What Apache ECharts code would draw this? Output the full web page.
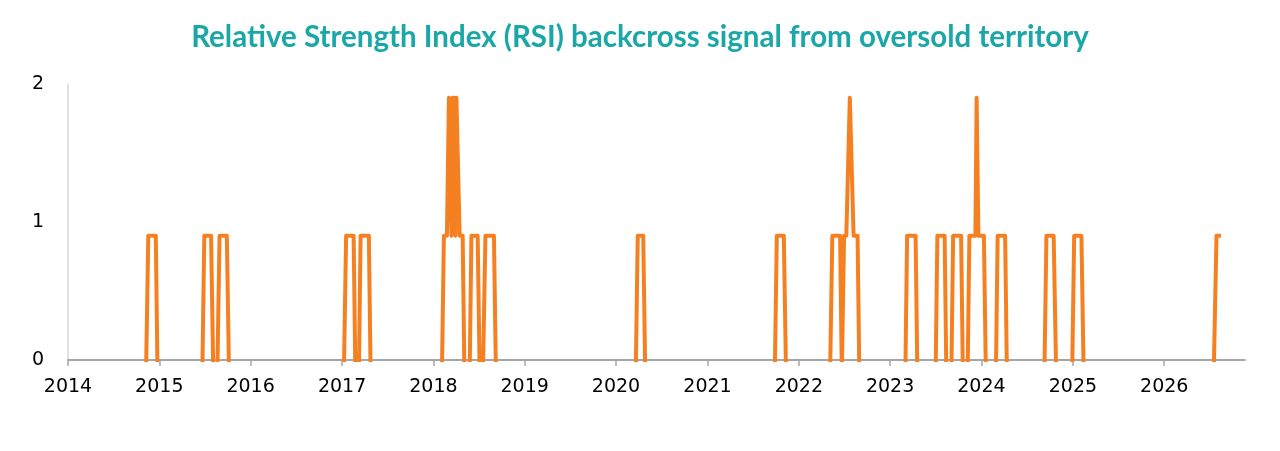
<!DOCTYPE html>
<html>
<head>
<meta charset="utf-8">
<title>RSI backcross signal</title>
<script src="https://cdn.jsdelivr.net/npm/echarts@6/dist/echarts.min.js"></script>
<style>
  html, body { margin: 0; padding: 0; background: #fff; }
  #chart { width: 1280px; height: 451px; }
</style>
</head>
<body>
<div id="chart"></div>
<script>
// signal series: -0.1 = no signal (sits just under the axis, clipped), 0.9 / 1.9 = signal
var signalDates = [
  '2014-11-09','2014-11-18','2014-12-18','2014-12-25',
  '2015-06-22','2015-06-30','2015-07-27','2015-08-05',
  '2015-08-21','2015-08-30','2015-09-28','2015-10-07',
  '2017-01-08','2017-01-17','2017-02-16','2017-02-23',
  '2017-03-09','2017-03-16','2017-04-18','2017-04-25',
  '2018-02-04','2018-02-12','2018-02-24','2018-03-04','2018-03-10','2018-03-14',
  '2018-03-18','2018-03-26','2018-03-30','2018-04-03','2018-04-09','2018-04-16',
  '2018-04-28','2018-05-05',
  '2018-05-26','2018-06-02','2018-06-27','2018-07-05',
  '2018-07-18','2018-07-28','2018-08-31','2018-09-08',
  '2020-03-20','2020-03-28','2020-04-19','2020-04-27',
  '2021-09-27','2021-10-05','2021-11-02','2021-11-11',
  '2022-05-06','2022-05-15','2022-06-15','2022-06-22',
  '2022-07-01','2022-07-10','2022-07-24','2022-07-28','2022-08-08','2022-08-24','2022-08-31',
  '2023-03-03','2023-03-10','2023-04-13','2023-04-20',
  '2023-07-02','2023-07-09','2023-08-07','2023-08-14',
  '2023-09-03','2023-09-10','2023-10-12','2023-10-19',
  '2023-11-07','2023-11-14','2023-12-08','2023-12-13','2023-12-15','2023-12-20',
  '2024-01-11','2024-01-19',
  '2024-02-28','2024-03-06','2024-04-05','2024-04-12',
  '2024-09-09','2024-09-17','2024-10-16','2024-10-26',
  '2024-12-29','2025-01-06','2025-02-04','2025-02-13',
  '2026-07-18','2026-07-29','2026-08-16'
];
var signalValues = [
  -0.1, 0.9, 0.9, -0.1,
  -0.1, 0.9, 0.9, -0.1,
  -0.1, 0.9, 0.9, -0.1,
  -0.1, 0.9, 0.9, -0.1,
  -0.1, 0.9, 0.9, -0.1,
  -0.1, 0.9, 0.9, 1.9, 1.9, 0.9,
  1.9, 1.9, 0.9, 1.9, 1.9, 0.9,
  0.9, -0.1,
  -0.1, 0.9, 0.9, -0.1,
  -0.1, 0.9, 0.9, -0.1,
  -0.1, 0.9, 0.9, -0.1,
  -0.1, 0.9, 0.9, -0.1,
  -0.1, 0.9, 0.9, -0.1,
  0.9, 0.9, 1.9, 1.9, 0.9, 0.9, -0.1,
  -0.1, 0.9, 0.9, -0.1,
  -0.1, 0.9, 0.9, -0.1,
  -0.1, 0.9, 0.9, -0.1,
  -0.1, 0.9, 0.9, 1.9, 1.9, 0.9,
  0.9, -0.1,
  -0.1, 0.9, 0.9, -0.1,
  -0.1, 0.9, 0.9, -0.1,
  -0.1, 0.9, 0.9, -0.1,
  -0.1, 0.9, 0.9
];
var yTicks = [0, 1, 2];
var axisStart = '2014-01-01', axisEnd = '2026-11-20';

var seriesData = [];
for (var i = 0; i < signalDates.length; i++) {
  seriesData.push([signalDates[i], signalValues[i]]);
}

var myChart = echarts.init(document.getElementById('chart'));
myChart.setOption({
  animation: false,
  title: {
    text: 'Relative Strength Index (RSI) backcross signal from oversold territory',
    left: 'center',
    top: 17,
    textStyle: {
      color: '#1ba7a7',
      fontFamily: 'Lato',
      fontWeight: 'bold',
      fontSize: 29.5
    }
  },
  grid: {
    left: 68,
    right: 35,
    top: 84,
    bottom: 91
  },
  xAxis: {
    type: 'time',
    min: axisStart,
    max: axisEnd,
    splitNumber: 13,
    minInterval: 365 * 24 * 3600 * 1000,
    maxInterval: 366 * 24 * 3600 * 1000,
    axisLine: { show: true, lineStyle: { color: '#a6a6a6', width: 2 } },
    axisTick: { show: true, length: 6, lineStyle: { color: '#a6a6a6', width: 1.5 } },
    splitLine: { show: false },
    axisLabel: {
      color: '#000',
      fontFamily: 'DejaVu Sans',
      fontSize: 19,
      margin: 18,
      formatter: function (value) {
        var d = new Date(value);
        if (d.getMonth() === 0 && d.getDate() === 1) return String(d.getFullYear());
        return '';
      }
    }
  },
  yAxis: {
    type: 'value',
    min: yTicks[0],
    max: yTicks[yTicks.length - 1],
    interval: 1,
    axisLine: { show: true, lineStyle: { color: '#d9d9d9', width: 1.5 } },
    axisTick: { show: false },
    splitLine: { show: false },
    axisLabel: {
      color: '#000',
      fontFamily: 'DejaVu Sans',
      fontSize: 19,
      margin: 24
    }
  },
  series: [
    {
      name: 'RSI backcross signal',
      type: 'line',
      data: seriesData,
      clip: true,
      showSymbol: false,
      symbol: 'none',
      lineStyle: { color: '#f58022', width: 4, join: 'round' }
    }
  ]
});
</script>
</body>
</html>
